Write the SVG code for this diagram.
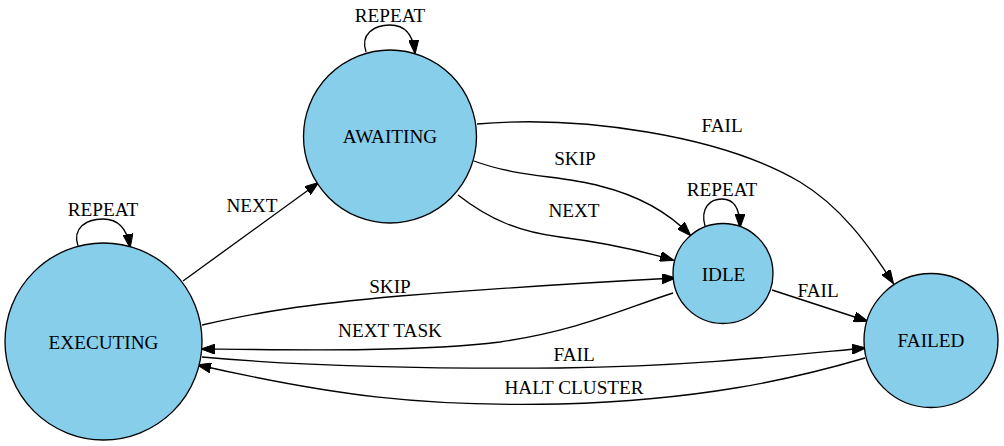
<svg xmlns="http://www.w3.org/2000/svg" width="1004" height="446" viewBox="0 0 1004 446">
<style>
.node circle{fill:#87CEEB;stroke:#000;stroke-width:1.33}
.t{font-family:"Liberation Serif","Times New Roman",serif;font-size:19.2px;fill:#000;text-anchor:middle}
.edge path{fill:none;stroke:#000;stroke-width:1.33;marker-end:url(#arrow)}
</style>
<defs>
<marker id="arrow" viewBox="0 0 14 10" refX="13" refY="5" markerWidth="14" markerHeight="10" markerUnits="userSpaceOnUse" orient="auto">
<path d="M0,0 L14,5 L0,10 z" fill="#000" stroke="#000" stroke-width="1"/>
</marker>
</defs>
<rect width="1004" height="446" fill="#fff"/>
<g id="connectors" class="edge">
<path d="M78,246 C72,228 86,219 103,219 C118,219 127,228 130,247"/>
<path d="M183,281 L318,183"/>
<path d="M366,52 C360,34 374,25 390,25 C404,25 413,33 415,53"/>
<path d="M477,124 C580,115 720,135 800,182 C840,206 868,244 893,283"/>
<path d="M474,161 C520,178 560,175 600,186 C640,196 668,212 690,235"/>
<path d="M458,195 C490,220 520,232 560,237 C600,242 635,249 673,260"/>
<path d="M705,226 C700,208 710,199 722,199 C733,199 740,207 740,227"/>
<path d="M772,290 L867,321"/>
<path d="M202,325 C260,312 300,305 400,296 C500,288 600,282 675,278"/>
<path d="M673,293 C620,310 580,330 500,342 C420,352 300,350 202,349"/>
<path d="M202,357 C300,366 420,369 560,368 C700,366 800,354 865,348"/>
<path d="M865,358 C790,380 700,400 560,404 C420,407 330,395 198,365"/>
</g>
<g id="edge-labels" class="t">
<text x="103" y="216">REPEAT</text>
<text x="252" y="212">NEXT</text>
<text x="390" y="22">REPEAT</text>
<text x="722" y="132">FAIL</text>
<text x="575" y="165">SKIP</text>
<text x="574" y="217">NEXT</text>
<text x="722" y="196">REPEAT</text>
<text x="818" y="297">FAIL</text>
<text x="390" y="293">SKIP</text>
<text x="390" y="337">NEXT TASK</text>
<text x="574" y="361">FAIL</text>
<text x="574" y="394">HALT CLUSTER</text>
</g>
<g id="EXECUTING" class="node">
<circle cx="103.5" cy="341.5" r="98.5"/>
<text class="t" x="103.5" y="349">EXECUTING</text>
</g>
<g id="AWAITING" class="node">
<circle cx="390" cy="136.5" r="86.5"/>
<text class="t" x="390" y="143">AWAITING</text>
</g>
<g id="IDLE" class="node">
<circle cx="723" cy="273.5" r="50"/>
<text class="t" x="723.5" y="281">IDLE</text>
</g>
<g id="FAILED" class="node">
<circle cx="931" cy="340.5" r="67"/>
<text class="t" x="931" y="347">FAILED</text>
</g>
</svg>
